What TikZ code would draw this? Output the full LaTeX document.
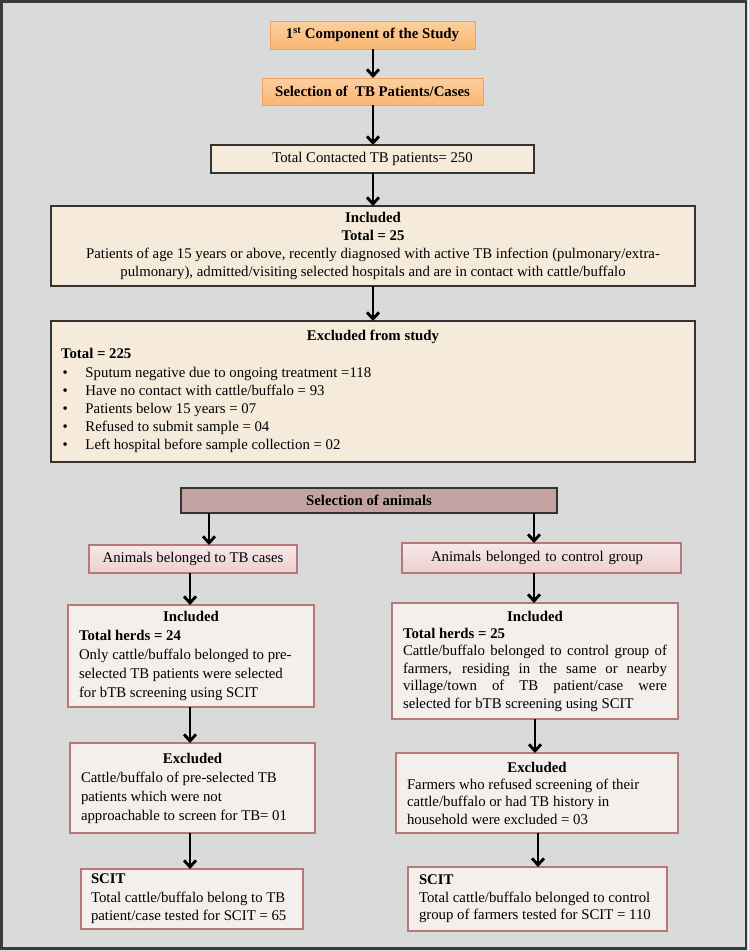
\documentclass[tikz,border=0pt]{standalone}
\usepackage{fontspec}
\setmainfont{Liberation Serif}
\usetikzlibrary{arrows.meta,shadows}
\setlength\parskip{0pt}
\definecolor{bgc}{HTML}{D9DBDA}
\definecolor{frame}{HTML}{3A3A3A}
\definecolor{dk}{HTML}{333333}
\definecolor{cream}{HTML}{F6EBDB}
\definecolor{orB}{HTML}{F7A05A}
\definecolor{orT}{HTML}{FCCF9E}
\definecolor{orBt}{HTML}{F9B672}
\definecolor{rose}{HTML}{C3A2A2}
\definecolor{pinkB}{HTML}{B87878}
\definecolor{pinkT}{HTML}{F7E8E8}
\definecolor{pinkBt}{HTML}{EDCFCF}
\definecolor{light}{HTML}{F2EFEC}
\newcommand\Ln[1]{\par\mbox{#1}}
\newcommand\Jl[1]{\par\makebox[\linewidth][s]{#1}}
\newcommand\Bul[1]{\par\hspace*{1.5pt}\makebox[23pt][l]{\textbullet}#1}
\begin{document}
\begin{tikzpicture}[x=1pt,y=-1pt,
  every node/.style={outer sep=0pt},
  base/.style={draw, rectangle, inner sep=0pt, font=\fontsize{14.8}{18}\selectfont,
    drop shadow={shadow xshift=1.3pt, shadow yshift=-1.3pt, opacity=0.3}},
  orangebox/.style={base, draw=orB, line width=1pt, top color=orT, bottom color=orBt,
    font=\fontsize{14.8}{18}\selectfont\bfseries},
  creambox/.style={base, draw=dk, line width=1.1pt, fill=cream},
  rosebox/.style={base, draw=dk, line width=1.1pt, fill=rose,
    font=\fontsize{14.8}{18}\selectfont\bfseries},
  pinkbox/.style={base, draw=pinkB, line width=1.1pt, top color=pinkT, bottom color=pinkBt},
  lightbox/.style={base, draw=pinkB, line width=1.1pt, fill=light},
  arr/.style={draw=black, line width=2.9pt, -{Straight Barb[length=6.5pt,width=12pt]}}
]
\useasboundingbox (0,0) rectangle (748,951);
\fill[bgc] (0,0) rectangle (748,951);
\draw[frame, line width=2.6pt] (1.3,1.3) rectangle (746,948.5);

% top column
\node[orangebox, minimum width=205pt, minimum height=28pt] (comp) at (372.5,35)
  {1\textsuperscript{st} Component of the Study};
\node[orangebox, minimum width=221pt, minimum height=27pt] (selTB) at (372.5,91.5)
  {Selection of\ \ TB Patients/Cases};
\node[creambox, minimum width=323pt, minimum height=28pt] (total) at (372.5,159)
  {Total Contacted TB patients= 250};
\node[creambox, minimum width=644pt, minimum height=80pt, align=center] (incl) at (373,246)
  {\textbf{Included}\\\textbf{Total = 25}\\Patients of age 15 years or above, recently diagnosed with active TB infection (pulmonary/extra-\\pulmonary), admitted/visiting selected hospitals and are in contact with cattle/buffalo};
\node[creambox, minimum width=644pt, minimum height=141pt] (excl) at (373,391.5)
  {\begin{minipage}{624pt}\centering\textbf{Excluded from study}\par\raggedright
   \textbf{Total = 225}\par\vspace{1pt}%
   \Bul{Sputum negative due to ongoing treatment =118}%
   \Bul{Have no contact with cattle/buffalo = 93}%
   \Bul{Patients below 15 years = 07}%
   \Bul{Refused to submit sample = 04}%
   \Bul{Left hospital before sample collection = 02}\end{minipage}};

% animals
\node[rosebox, minimum width=376pt, minimum height=25pt] (selA) at (369,500.5)
  {Selection of animals};
\node[pinkbox, minimum width=208pt, minimum height=28pt] (lcase) at (193,559)
  {Animals belonged to TB cases};
\node[pinkbox, minimum width=279pt, minimum height=30pt, text width=221pt, inner xsep=29pt, align=left] (rctrl) at (541.5,558)
  {Animals belonged to control group};

% left column
\node[lightbox, minimum width=246pt, minimum height=102pt] (linc) at (191,656)
  {\begin{minipage}{224pt}\fontsize{14.8}{19}\selectfont\centering\textbf{Included}\par\raggedright
   \textbf{Total herds = 24}%
   \Ln{Only cattle/buffalo belonged to pre-}%
   \Ln{selected TB patients were selected}%
   \Ln{for bTB screening using SCIT}\end{minipage}};
\node[lightbox, minimum width=245pt, minimum height=90pt] (lexc) at (192.5,788)
  {\begin{minipage}{223pt}\fontsize{14.8}{19}\selectfont\centering\textbf{Excluded}\par\raggedright
   \Ln{Cattle/buffalo of pre-selected TB}%
   \Ln{patients which were not}%
   \Ln{approachable to screen for TB= 01}\end{minipage}};
\node[lightbox, minimum width=222pt, minimum height=60pt] (lscit) at (192,899)
  {\begin{minipage}{202pt}\fontsize{14.8}{18.5}\selectfont\raggedright
   \textbf{SCIT}%
   \Ln{Total cattle/buffalo belong to TB}%
   \Ln{patient/case tested for SCIT = 65}\end{minipage}};

% right column
\node[lightbox, minimum width=286pt, minimum height=116pt] (rinc) at (535,661)
  {\begin{minipage}{264pt}\fontsize{14.8}{17.4}\selectfont\centering\textbf{Included}\par\raggedright
   \textbf{Total herds = 25}%
   \Jl{Cattle/buffalo belonged to control group of}%
   \Jl{farmers, residing in the same or nearby}%
   \Jl{village/town of TB patient/case were}%
   \Ln{selected for bTB screening using SCIT}\end{minipage}};
\node[lightbox, minimum width=282pt, minimum height=80pt] (rexc) at (537,793)
  {\begin{minipage}{260pt}\fontsize{14.8}{17.3}\selectfont\centering\textbf{Excluded}\par\raggedright
   \Ln{Farmers who refused screening of their}%
   \Ln{cattle/buffalo or had TB history in}%
   \Ln{household were excluded = 03}\end{minipage}};
\node[lightbox, minimum width=259pt, minimum height=64pt] (rscit) at (537.5,899)
  {\begin{minipage}{237pt}\fontsize{14.8}{17.5}\selectfont\raggedright
   \textbf{SCIT}%
   \Ln{Total cattle/buffalo belonged to control}%
   \Ln{group of farmers tested for SCIT = 110}\end{minipage}};

% arrow columns
\coordinate (xa) at (373,0);
\coordinate (xl1) at (209,0);
\coordinate (xl) at (190,0);
\coordinate (xr1) at (534,0);
\coordinate (xr2) at (535,0);
\coordinate (xr3) at (538,0);

\draw[arr] (comp.south -| xa) -- (selTB.north -| xa);
\draw[arr] (selTB.south -| xa) -- (total.north -| xa);
\draw[arr] (total.south -| xa) -- (incl.north -| xa);
\draw[arr] (incl.south -| xa) -- (excl.north -| xa);

\draw[arr] (selA.south -| xl1) -- (lcase.north -| xl1);
\draw[arr] (lcase.south -| xl) -- (linc.north -| xl);
\draw[arr] (linc.south -| xl) -- (lexc.north -| xl);
\draw[arr] (lexc.south -| xl) -- (lscit.north -| xl);

\draw[arr] (selA.south -| xr1) -- (rctrl.north -| xr1);
\draw[arr] (rctrl.south -| xr1) -- (rinc.north -| xr1);
\draw[arr] (rinc.south -| xr2) -- (rexc.north -| xr2);
\draw[arr] (rexc.south -| xr3) -- (rscit.north -| xr3);
\end{tikzpicture}
\end{document}
